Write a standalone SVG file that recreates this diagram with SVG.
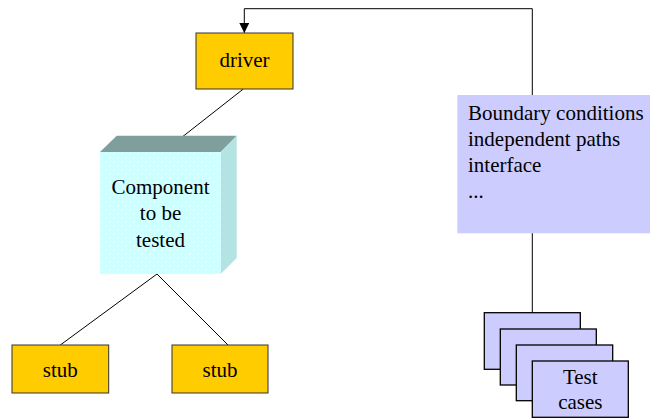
<svg xmlns="http://www.w3.org/2000/svg" width="650" height="419" viewBox="0 0 650 419">
  <style>
    .lbl { font-family: "Liberation Serif", "Times New Roman", serif; font-size: 21px; fill: #000; }
    .mid { text-anchor: middle; }
    .yellow { fill: #ffcc00; stroke: #333; stroke-width: 1; }
    .card { fill: #ccccff; stroke: #000; stroke-width: 1.3; }
    .wire { fill: none; stroke: #000; stroke-width: 1; }
  </style>
  <defs>
    <marker id="arrow" viewBox="0 0 10 10" refX="10" refY="5" markerWidth="10" markerHeight="10" markerUnits="userSpaceOnUse" orient="auto">
      <path d="M0,0 L10,5 L0,10 Z" fill="#000"/>
    </marker>
    <pattern id="dots" width="8" height="8" patternUnits="userSpaceOnUse">
      <rect width="8" height="8" fill="#ccffff"/>
      <circle cx="2" cy="2" r="0.7" fill="#fff"/>
      <circle cx="6" cy="6" r="0.7" fill="#fff"/>
    </pattern>
  </defs>

  <!-- connectors -->
  <g id="connectors">
    <path class="wire" d="M532.3,95 V8.7 H244.3 V33" marker-end="url(#arrow)"/>
    <line class="wire" x1="243.3" y1="89" x2="172" y2="145"/>
    <line class="wire" x1="532.3" y1="233" x2="532.3" y2="313"/>
    <line class="wire" x1="157" y1="274" x2="60.3" y2="345"/>
    <line class="wire" x1="157" y1="274" x2="228" y2="345"/>
  </g>

  <g id="driver">
    <rect class="yellow" x="196" y="33" width="97" height="56"/>
    <text class="lbl mid" x="244.5" y="67">driver</text>
  </g>

  <g id="component">
    <polygon points="100,152 116.7,135.7 236.7,135.7 220.7,152" fill="#7f9f9c"/>
    <polygon points="220.7,152 236.7,135.7 236.7,258 220.7,274" fill="#b3e3e3"/>
    <rect x="100" y="152" width="120.7" height="122" fill="url(#dots)"/>
    <text class="lbl mid" x="160.5" y="194">Component</text>
    <text class="lbl mid" x="160.5" y="220">to be</text>
    <text class="lbl mid" x="160.5" y="247">tested</text>
  </g>

  <g id="stub-left">
    <rect class="yellow" x="12" y="345" width="96.7" height="48"/>
    <text class="lbl mid" x="60.3" y="377">stub</text>
  </g>

  <g id="stub-right">
    <rect class="yellow" x="172" y="345" width="96" height="48"/>
    <text class="lbl mid" x="220" y="377">stub</text>
  </g>

  <g id="criteria">
    <rect x="457.3" y="95" width="192.7" height="138.3" fill="#ccccff"/>
    <text class="lbl" x="468" y="120">Boundary conditions</text>
    <text class="lbl" x="468" y="146">independent paths</text>
    <text class="lbl" x="468" y="172">interface</text>
    <text class="lbl" x="468" y="198">...</text>
  </g>

  <g id="test-cases">
    <rect class="card" x="484.3" y="312.7" width="96" height="56.6"/>
    <rect class="card" x="500.3" y="329" width="96" height="56"/>
    <rect class="card" x="516.3" y="345" width="96.4" height="55.7"/>
    <rect class="card" x="532.3" y="361" width="96" height="56.3"/>
    <text class="lbl mid" x="580.3" y="384">Test</text>
    <text class="lbl mid" x="580.3" y="409">cases</text>
  </g>
</svg>
